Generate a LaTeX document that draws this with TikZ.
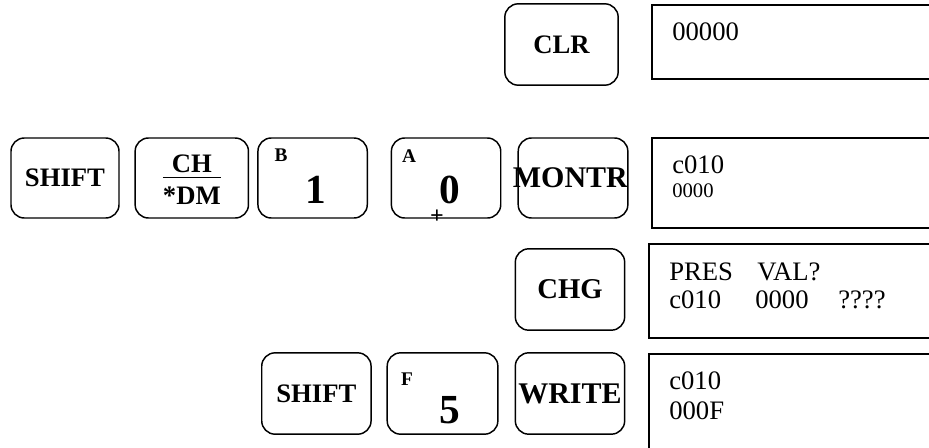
\documentclass[tikz,border=0pt]{standalone}
\usepackage{fontspec}
\setmainfont{Liberation Serif}
\usetikzlibrary{positioning}

\begin{document}
\begin{tikzpicture}[
    x=0.75pt, y=-0.75pt,
    % key styles
    key/.style = {
      draw,
      line width=1.1pt,
      rounded corners=10pt,
      minimum width=82pt,
      minimum height=60pt,
      inner sep=0pt,
      align=center,
      font=\bfseries\fontsize{20}{22}\selectfont
    },
    widekey/.style = {key, font=\bfseries\fontsize{22.5}{24}\selectfont},
    digit/.style = {inner sep=0pt, font=\bfseries\fontsize{31}{33}\selectfont},
    keylbl/.style = {inner sep=0pt, font=\bfseries\fontsize{14.5}{16}\selectfont},
    % display styles
    lcd/.style = {draw, line width=1.4pt, anchor=north west, minimum width=250pt, inner sep=0pt},
    lcdtext/.style = {anchor=west, inner sep=0pt, font=\fontsize{20}{22}\selectfont},
    lcdsmall/.style = {anchor=west, inner sep=0pt, font=\fontsize{15.5}{17}\selectfont}
  ]

  \useasboundingbox (0,0) rectangle (929,447);
  \clip (0,0) rectangle (929,447);

  % --- Keys
  \node[key, minimum width=85pt, minimum height=61pt] (clr) at (561.5,44.5) {CLR};

  \node[key, minimum width=81pt] (shiftA) at (65,178) {SHIFT};
  \node[key, minimum width=85pt, right=11pt of shiftA] (chdm)
    {\raisebox{-3.5pt}[\height][\depth]{\begin{tabular}{@{}c@{}}CH\\[-3pt]\hline\rule{0pt}{20pt}*DM\end{tabular}}};
  \node[key, right=6pt of chdm] (keyB) {};
  \node[key, right=17pt of keyB] (keyA) {};
  \node[widekey, right=12pt of keyA] (montr) {\hspace*{-4pt}MONTR};

  \node[key, minimum height=61pt, font=\bfseries\fontsize{21.5}{23}\selectfont] (chg) at (570,289.5) {CHG};

  \node[widekey, minimum height=61pt] (write) at (570,393.5) {WRITE};
  \node[key, minimum height=61pt, minimum width=83pt, left=12pt of write] (keyF) {};
  \node[key, minimum height=61pt, left=11pt of keyF] (shiftB) {SHIFT};

  % --- Key legends
  \node[keylbl] (lblB) at (281,155) {B};
  \node[digit] (one) at (316,190) {1};
  \node[keylbl] (lblA) at (409,156) {A};
  \node[digit] (zero) at (450,190) {0};
  \node[inner sep=0pt, font=\bfseries\fontsize{18}{19}\selectfont] (plus) at (437,217) {+};
  \node[keylbl] (lblF) at (407,379) {F};
  \node[digit] (five) at (450,410) {5};

  % --- Displays
  \node[lcd, minimum height=55.5pt] (lcd1) at (651,4) {};
  \node[lcd, minimum height=67.5pt] (lcd2) at (651,137) {};
  \node[lcd, minimum height=70.5pt] (lcd3) at (648,243) {};
  \node[lcd, minimum height=82pt] (lcd4) at (648,353) {};

  \node[lcdtext] (clrout) at (672,32) {00000};

  \node[lcdtext] (monaddr) at (672,165) {c010};
  \node[lcdsmall] (mondata) at (672,191) {0000};

  \node[lcdtext] (pres) at (669,272) {PRES};
  \node[lcdtext] (val) at (757,272) {VAL?};
  \node[lcdtext] (chgaddr) at (669,300) {c010};
  \node[lcdtext] (chgdata) at (755,300) {0000};
  \node[lcdtext] (chgnew) at (838,300) {????};

  \node[lcdtext] (wraddr) at (669,381) {c010};
  \node[lcdtext] (wrdata) at (669,411) {000F};

\end{tikzpicture}
\end{document}
